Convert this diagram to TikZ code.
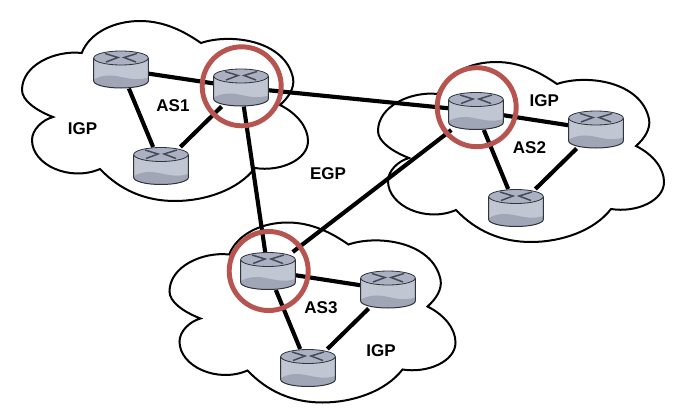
\documentclass[tikz,border=0pt]{standalone}
\usepackage{fontspec}
\setmainfont{Liberation Sans}
\definecolor{rbody}{HTML}{C1C6D3}
\definecolor{rtop}{HTML}{ABB1C3}
\definecolor{rlow}{HTML}{A0A6B6}
\definecolor{rline}{HTML}{30333C}
\definecolor{rmark}{HTML}{474A53}
\definecolor{ring}{HTML}{B85450}
\newlength{\pxu}\setlength{\pxu}{0.75pt}
\tikzset{
  cloudline/.style={draw=black,line width=1.5pt,line join=miter,fill=white},
  link/.style={draw=black,line width=3.1pt},
  routerbox/.style={rectangle,minimum width=55\pxu,minimum height=38\pxu,inner sep=0pt,outer sep=0pt},
  ringmark/.style={draw=ring,line width=3.7pt},
  lbl/.style={font=\fontsize{12.75pt}{14pt}\selectfont\bfseries,inner sep=0pt},
}
\newcommand{\cloudat}[2]{%
  \draw[cloudline,shift={(#1,#2)}] (81.7,53) .. controls (90,32) and (115,21) .. (140,21)
    .. controls (165,21) and (185,32) .. (201,43)
    .. controls (230,33) and (285,40) .. (293,78)
    .. controls (295,88) and (288,98) .. (280,105)
    .. controls (298,114) and (308,128) .. (308,141)
    .. controls (308,160) and (280,172) .. (255,168)
    .. controls (238,190) and (205,201) .. (175,201)
    .. controls (145,201) and (120,190) .. (100,169)
    .. controls (70,182) and (32,165) .. (32,140)
    .. controls (32,130) and (42,120) .. (53,117)
    .. controls (35,110) and (22,100) .. (22,90)
    .. controls (22,65) and (55,50) .. (81.7,53) -- cycle;}
\newcommand{\routerat}[3]{%
  \node[routerbox] (#1) at (#2,#3) {};
}
\newcommand{\routerdraw}[2]{%
  \begin{scope}[shift={(#1,#2)}]
    \fill[rbody] (-27.3,-11.5) -- (-27.3,11.5) arc[x radius=27.3,y radius=7,start angle=180,end angle=0] -- (27.3,-11.5) -- cycle;
    \fill[rlow] (-27.3,10) -- (-27.3,11.5) arc[x radius=27.3,y radius=7,start angle=180,end angle=0] -- (27.3,8) .. controls (15,12) and (5,8) .. (-5,6.5) .. controls (-14,5) and (-22,7) .. (-27.3,10) -- cycle;
    \fill[rtop] (0,-11.5) ellipse[x radius=27.3,y radius=7];
    \draw[rline,line width=0.75pt] (-27.3,-11.5) -- (-27.3,11.5) arc[x radius=27.3,y radius=7,start angle=180,end angle=0] -- (27.3,-11.5);
    \draw[rline,line width=0.6pt] (0,-11.5) ellipse[x radius=27.3,y radius=7];
    \draw[rmark,line width=1.1pt] (-16,-16) -- (-3,-12) -- (-15,-7.5) (16,-16) -- (3,-12) -- (15,-7.5);
  \end{scope}}
\begin{document}
\begin{tikzpicture}[x=0.75pt,y=-0.75pt]
\useasboundingbox (0,0) rectangle (678,414);
\cloudat{0}{0}
\cloudat{356}{41}
\cloudat{147.5}{201.5}
\routerat{aa}{241}{87.5}
\routerat{ab}{121}{69.5}
\routerat{ac}{161}{166}
\routerat{ba}{476}{111}
\routerat{bb}{596}{129.5}
\routerat{bc}{516}{208}
\routerat{ca}{268}{271}
\routerat{cb}{388}{289.5}
\routerat{cc}{308}{368}
\draw[link] (ab) -- (aa);
\draw[link] (ab) -- (ac);
\draw[link] (ac) -- (aa);
\draw[link] (ba) -- (bb);
\draw[link] (ba) -- (bc);
\draw[link] (bb) -- (bc);
\draw[link] (ca) -- (cb);
\draw[link] (ca) -- (cc);
\draw[link] (cb) -- (cc);
\draw[link] (aa) -- (ba);
\draw[link] (aa) -- (ca);
\draw[link] (ba) -- (ca);
\routerdraw{241}{87.5}
\routerdraw{121}{69.5}
\routerdraw{161}{166}
\routerdraw{476}{111}
\routerdraw{596}{129.5}
\routerdraw{516}{208}
\routerdraw{268}{271}
\routerdraw{388}{289.5}
\routerdraw{308}{368}
\node[ringmark,circle,minimum size=79\pxu,inner sep=0pt] (ra) at (241.7,86.3) {};
\node[ringmark,circle,minimum size=79\pxu,inner sep=0pt] (rb) at (476.7,107.2) {};
\node[ringmark,circle,minimum size=79\pxu,inner sep=0pt] (rc) at (268.7,271) {};
\node[lbl] (t1) at (173,106) {AS1};
\node[lbl] (t2) at (82.5,129) {IGP};
\node[lbl] (t3) at (328,174) {EGP};
\node[lbl] (t4) at (544.2,101) {IGP};
\node[lbl] (t5) at (529.5,147.5) {AS2};
\node[lbl] (t6) at (321,308) {AS3};
\node[lbl] (t7) at (381,351) {IGP};
\end{tikzpicture}
\end{document}
